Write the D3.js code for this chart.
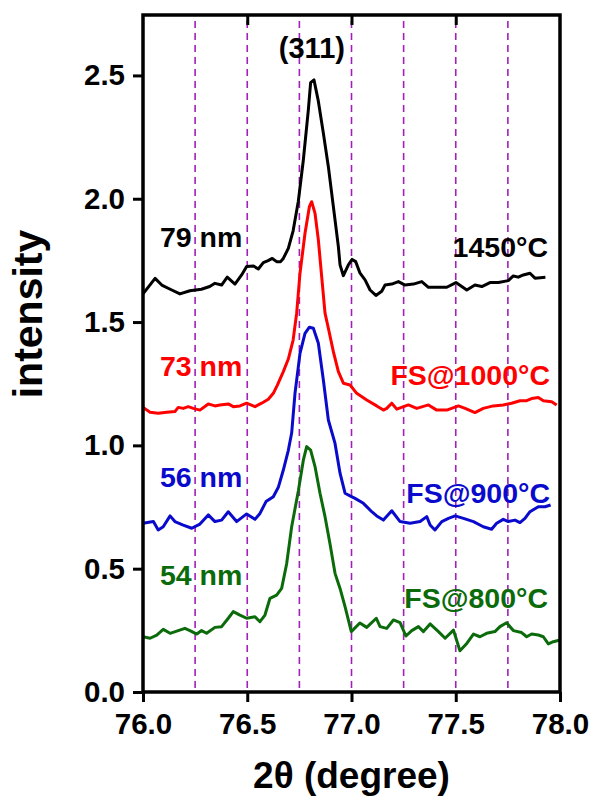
<!DOCTYPE html>
<html>
<head>
<meta charset="utf-8">
<script src="https://cdn.jsdelivr.net/npm/d3@7"></script>
<style>
  body { margin: 0; background: #fff; }
  text { font-family: "Liberation Sans", Arial, sans-serif; font-weight: bold; }
</style>
</head>
<body>
<script>
// XRD (311) peak, offset curves
var xTicks = [76.0, 76.5, 77.0, 77.5, 78.0];
var yTicks = [0.0, 0.5, 1.0, 1.5, 2.0, 2.5];
var guideLines = [76.25, 76.5, 76.75, 77.0, 77.25, 77.5, 77.75];

var black = [[76.00,1.614],[76.058,1.677],[76.09,1.650],[76.138,1.630],[76.177,1.614],[76.225,1.627],[76.28,1.633],[76.32,1.644],[76.345,1.657],[76.377,1.650],[76.404,1.682],[76.441,1.654],[76.473,1.691],[76.497,1.725],[76.53,1.727],[76.553,1.715],[76.577,1.741],[76.60,1.749],[76.62,1.758],[76.641,1.745],[76.66,1.745],[76.673,1.758],[76.697,1.799],[76.72,1.870],[76.745,1.990],[76.769,2.157],[76.793,2.36],[76.804,2.471],[76.82,2.482],[76.84,2.40],[76.865,2.266],[76.889,2.13],[76.913,1.968],[76.937,1.806],[76.945,1.732],[76.961,1.688],[76.985,1.732],[77.003,1.754],[77.02,1.745],[77.041,1.698],[77.065,1.671],[77.089,1.630],[77.117,1.608],[77.145,1.625],[77.161,1.650],[77.193,1.654],[77.225,1.664],[77.257,1.650],[77.297,1.654],[77.337,1.664],[77.369,1.641],[77.409,1.641],[77.457,1.641],[77.501,1.66],[77.553,1.630],[77.592,1.650],[77.625,1.644],[77.664,1.66],[77.705,1.66],[77.752,1.668],[77.776,1.687],[77.80,1.682],[77.824,1.691],[77.856,1.698],[77.88,1.678],[77.93,1.682]];

var red = [[76.0,1.154],[76.034,1.134],[76.073,1.130],[76.114,1.134],[76.153,1.137],[76.169,1.154],[76.193,1.150],[76.217,1.157],[76.241,1.150],[76.273,1.143],[76.313,1.168],[76.345,1.160],[76.369,1.164],[76.409,1.168],[76.433,1.157],[76.465,1.160],[76.497,1.171],[76.537,1.157],[76.569,1.171],[76.601,1.187],[76.625,1.211],[76.645,1.245],[76.673,1.299],[76.697,1.350],[76.72,1.427],[76.737,1.536],[76.753,1.698],[76.777,1.86],[76.798,1.968],[76.809,1.988],[76.825,1.941],[76.841,1.833],[76.857,1.684],[76.873,1.536],[76.889,1.475],[76.913,1.380],[76.937,1.299],[76.961,1.252],[76.993,1.245],[77.025,1.211],[77.073,1.184],[77.121,1.160],[77.153,1.143],[77.169,1.15],[77.193,1.171],[77.217,1.147],[77.273,1.164],[77.313,1.150],[77.369,1.164],[77.409,1.143],[77.457,1.143],[77.513,1.160],[77.545,1.150],[77.592,1.133],[77.632,1.150],[77.68,1.160],[77.728,1.164],[77.768,1.171],[77.808,1.181],[77.84,1.181],[77.864,1.19],[77.896,1.194],[77.92,1.181],[77.96,1.177],[77.984,1.164]];

var blue = [[76.0,0.684],[76.05,0.691],[76.073,0.657],[76.097,0.670],[76.13,0.714],[76.153,0.691],[76.193,0.677],[76.234,0.664],[76.273,0.681],[76.313,0.718],[76.345,0.691],[76.377,0.697],[76.409,0.731],[76.449,0.691],[76.497,0.722],[76.537,0.700],[76.561,0.724],[76.59,0.772],[76.625,0.792],[76.649,0.830],[76.673,0.900],[76.697,0.980],[76.713,1.05],[76.729,1.211],[76.753,1.373],[76.777,1.454],[76.798,1.479],[76.817,1.475],[76.841,1.414],[76.865,1.265],[76.889,1.103],[76.921,1.008],[76.945,0.887],[76.969,0.806],[76.993,0.795],[77.017,0.785],[77.057,0.765],[77.097,0.731],[77.121,0.714],[77.153,0.697],[77.193,0.735],[77.233,0.691],[77.281,0.684],[77.329,0.691],[77.361,0.711],[77.377,0.677],[77.40,0.657],[77.433,0.691],[77.465,0.704],[77.497,0.714],[77.537,0.704],[77.585,0.691],[77.632,0.670],[77.672,0.660],[77.696,0.684],[77.728,0.700],[77.752,0.691],[77.784,0.697],[77.808,0.687],[77.832,0.704],[77.856,0.731],[77.896,0.751],[77.928,0.751],[77.955,0.758]];

var green = [[76.0,0.224],[76.034,0.218],[76.066,0.231],[76.097,0.254],[76.13,0.238],[76.169,0.249],[76.201,0.258],[76.225,0.249],[76.258,0.235],[76.281,0.249],[76.305,0.238],[76.345,0.262],[76.377,0.265],[76.409,0.299],[76.433,0.326],[76.465,0.312],[76.497,0.299],[76.537,0.305],[76.561,0.285],[76.585,0.312],[76.609,0.380],[76.641,0.393],[76.665,0.42],[76.689,0.52],[76.713,0.670],[76.745,0.815],[76.769,0.94],[76.785,0.995],[76.804,0.981],[76.825,0.914],[76.849,0.806],[76.873,0.711],[76.897,0.60],[76.921,0.481],[76.945,0.420],[76.969,0.346],[76.999,0.245],[77.04,0.280],[77.073,0.262],[77.119,0.299],[77.137,0.265],[77.169,0.258],[77.201,0.292],[77.233,0.281],[77.261,0.227],[77.289,0.249],[77.321,0.265],[77.345,0.245],[77.377,0.276],[77.417,0.245],[77.449,0.218],[77.489,0.251],[77.52,0.167],[77.553,0.197],[77.585,0.235],[77.616,0.224],[77.648,0.238],[77.688,0.245],[77.712,0.265],[77.744,0.281],[77.776,0.249],[77.816,0.241],[77.84,0.224],[77.864,0.235],[77.896,0.231],[77.92,0.224],[77.944,0.195],[77.968,0.204],[78.0,0.211]];

var seriesColors = ["#000000", "#ff0000", "#0a0acc", "#0b6b0b"];
var sizeLabels = ["79 nm", "73 nm", "56 nm", "54 nm"];
var sampleLabels = ["1450\u00B0C", "FS@1000\u00B0C", "FS@900\u00B0C", "FS@800\u00B0C"];

var width = 592, height = 804;
var margin = {top: 15, right: 32, bottom: 112, left: 143};
var w = width - margin.left - margin.right;
var h = height - margin.top - margin.bottom;

var svg = d3.select("body").append("svg")
    .attr("width", width)
    .attr("height", height);

var g = svg.append("g")
    .attr("transform", "translate(" + margin.left + "," + margin.top + ")");

var x = d3.scaleLinear().domain([76, 78]).range([0, w]);
var y = d3.scaleLinear().domain([0, 2.745]).range([h, 0]);

// purple dashed guides
g.selectAll(".guide")
    .data(guideLines)
    .enter().append("line")
    .attr("x1", function(d) { return x(d); })
    .attr("x2", function(d) { return x(d); })
    .attr("y1", 6)
    .attr("y2", h)
    .attr("stroke", "#a020b8")
    .attr("stroke-width", 1.6)
    .attr("stroke-dasharray", "7,5");

var line = d3.line()
    .x(function(d) { return x(d[0]); })
    .y(function(d) { return y(d[1]); });

var allSeries = [black, red, blue, green];
g.selectAll(".curve")
    .data(allSeries)
    .enter().append("path")
    .attr("d", line)
    .attr("fill", "none")
    .attr("stroke", function(d, i) { return seriesColors[i]; })
    .attr("stroke-width", 3)
    .attr("stroke-linejoin", "round");

// axes
var xAxis = g.append("g")
    .attr("transform", "translate(0," + h + ")")
    .call(d3.axisBottom(x).tickValues(xTicks).tickFormat(d3.format(".1f"))
        .tickSize(10).tickPadding(11).tickSizeOuter(0));

var yAxis = g.append("g")
    .call(d3.axisLeft(y).tickValues(yTicks).tickFormat(d3.format(".1f"))
        .tickSize(10).tickPadding(8).tickSizeOuter(0));

var topAxis = g.append("g")
    .call(d3.axisTop(x).tickValues([76.5, 77.0, 77.5]).tickFormat("")
        .tickSize(-10).tickSizeOuter(0));

[xAxis, yAxis, topAxis].forEach(function(a) {
    a.select(".domain").remove();
    a.selectAll("line").attr("stroke", "#000").attr("stroke-width", 3);
    a.selectAll("text").attr("fill", "#000").style("font-size", "29.5px")
        .style("font-family", "'Liberation Sans', Arial, sans-serif").style("font-weight", "bold");
});

g.append("rect")
    .attr("width", w)
    .attr("height", h)
    .attr("fill", "none")
    .attr("stroke", "#000")
    .attr("stroke-width", 3.5);

// axis titles
svg.append("text")
    .attr("x", margin.left + w / 2)
    .attr("y", 788)
    .attr("text-anchor", "middle")
    .style("font-size", "37px")
    .text("2\u03B8 (degree)");

svg.append("text")
    .attr("transform", "translate(42,314) rotate(-90)")
    .attr("text-anchor", "middle")
    .style("font-size", "41px")
    .text("intensity");

// annotations
g.append("text")
    .attr("x", x(76.81))
    .attr("y", 58 - margin.top)
    .attr("text-anchor", "middle")
    .style("font-size", "29px")
    .text("(311)");

var sizeY = [246.7, 376, 486.7, 585];
var sampleY = [256.7, 385, 502.7, 608];
var sampleRight = [548, 550, 550, 548];

sizeLabels.forEach(function(t, i) {
    svg.append("text")
        .attr("x", 160)
        .attr("y", sizeY[i])
        .attr("fill", seriesColors[i])
        .style("font-size", "28.5px")
        .text(t);
});

sampleLabels.forEach(function(t, i) {
    svg.append("text")
        .attr("x", sampleRight[i])
        .attr("y", sampleY[i])
        .attr("text-anchor", "end")
        .attr("fill", seriesColors[i])
        .style("font-size", "28.5px")
        .text(t);
});
</script>
</body>
</html>
